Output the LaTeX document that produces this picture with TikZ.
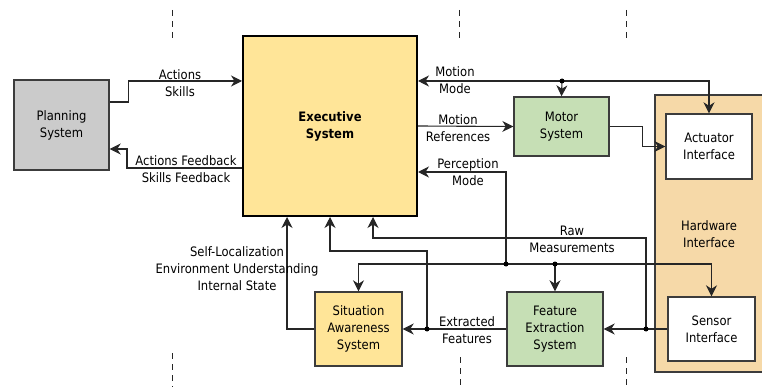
\documentclass[tikz,border=0pt]{standalone}
\usepackage{fontspec}
\setmainfont{DejaVu Sans}[FakeStretch=0.89]
\usetikzlibrary{arrows.meta,calc}

\definecolor{planfill}{HTML}{CBCBCB}
\definecolor{execfill}{HTML}{FFE598}
\definecolor{greenfill}{HTML}{C6DFB5}
\definecolor{hwfill}{HTML}{F6D9A8}
\definecolor{boxline}{HTML}{3C3C3C}
\definecolor{lineclr}{HTML}{262626}

\tikzset{
  box/.style={draw=boxline, line width=1.4pt, align=center, inner sep=0pt},
  flow/.style={draw=lineclr, line width=1.1pt,
    -{Stealth[length=11pt,width=11pt,inset=3.5pt]}},
  lbl/.style={inner sep=0pt, align=center},
  jdot/.style={circle, fill=black, inner sep=0pt, minimum size=5pt},
  guide/.style={draw=lineclr, line width=1pt, dash pattern=on 6pt off 5pt}
}

\begin{document}
\begin{tikzpicture}[x=1pt, y=-1pt, font=\fontsize{13}{17}\selectfont]
\useasboundingbox (0,0) rectangle (762,387);

% dashed guide marks
\draw[guide] (172,10) -- (172,42);
\draw[guide] (459,10) -- (459,42);
\draw[guide] (626,10) -- (626,42);
\draw[guide] (172,353) -- (172,387);
\draw[guide] (460,357) -- (460,387);
\draw[guide] (626,357) -- (626,387);

% hardware interface panel, running off the right edge
\fill[hwfill] (655,95) rectangle (762,372);
\draw[boxline, line width=1.4pt] (762,95) -- (655,95) -- (655,372) -- (762,372);
\node[lbl] (hwlabel) at (709,234) {Hardware\\Interface};

% blocks
\node[box, fill=planfill, minimum width=95pt, minimum height=90pt]
  (plan) at (61.5,125) {Planning\\System};
\node[box, fill=execfill, draw=black, line width=2pt,
  minimum width=174pt, minimum height=180pt, font=\fontsize{13}{17}\selectfont\bfseries]
  (exec) at (330,126) {Executive\\System};
\node[box, fill=greenfill, minimum width=95pt, minimum height=59pt]
  (motor) at (561.5,126.5) {Motor\\System};
\node[box, fill=white, minimum width=86pt, minimum height=65pt]
  (act) at (709,146.5) {Actuator\\Interface};
\node[box, fill=white, minimum width=87pt, minimum height=64pt]
  (sens) at (711.5,329) {Sensor\\Interface};
\node[box, fill=greenfill, minimum width=96pt, minimum height=74pt]
  (feat) at (555,329) {Feature\\Extraction\\System};
\node[box, fill=execfill, minimum width=87pt, minimum height=74pt]
  (sa) at (358.5,329) {Situation\\Awareness\\System};

% junction points
\coordinate (mj) at (562,81);
\coordinate (pj) at (506,264);
\coordinate (fj) at (555,264);
\coordinate (rj) at (646,329);
\coordinate (ej) at (427,329);

% planning <-> executive
\draw[flow] ([yshift=23pt]plan.east) -- ++(19,0) |- ([yshift=45pt]exec.west);
\draw[flow] ([yshift=-42pt]exec.west) -- ++(-115,0) |- ([yshift=-24pt]plan.east);
\node[lbl] (lact) at (180,83) {Actions\\Skills};
\node[lbl] (lfb) at (186,169.5) {Actions Feedback\\Skills Feedback};

% motion mode
\draw[flow] (mj) -- ([yshift=45pt]exec.east);
\draw[flow] (mj) -| (act.north);
\draw[flow] (mj) -- (motor.north);
\node[lbl] (lmm) at (455,80.5) {Motion\\Mode};

% motion references
\draw[flow] (exec.east) -- (motor.west);
\node[lbl] (lmr) at (458,128.5) {Motion\\References};

% motor to actuator
\draw[flow] (motor.east) -- ++(33,0) |- (act.west);

% perception mode
\draw[flow] (pj) |- ([yshift=-46pt]exec.east);
\draw[flow] (pj) -| (sa.north);
\draw[flow] (pj) -| (sens.north);
\draw[flow] (fj) -- (feat.north);
\node[lbl] (lpm) at (468,172) {Perception\\Mode};

% raw measurements
\draw[flow] (sens.west) -- (feat.east);
\draw[flow] (rj) -- ++(0,-91) -| ([xshift=43pt]exec.south);
\node[lbl] (lraw) at (572,239) {Raw\\Measurements};

% extracted features
\draw[flow] (feat.west) -- (sa.east);
\draw[flow] (ej) -- ++(0,-78) -| (exec.south);
\node[lbl] (lef) at (467,330) {Extracted\\Features};

% situation awareness to executive
\draw[flow] (sa.west) -| ([xshift=-43pt]exec.south);
\node[lbl] (lsa) at (237,269) {Self-Localization\\Environment Understanding\\Internal State};

% junction dots
\foreach \p in {mj,pj,fj,rj,ej} \node[jdot] at (\p) {};
\end{tikzpicture}
\end{document}
